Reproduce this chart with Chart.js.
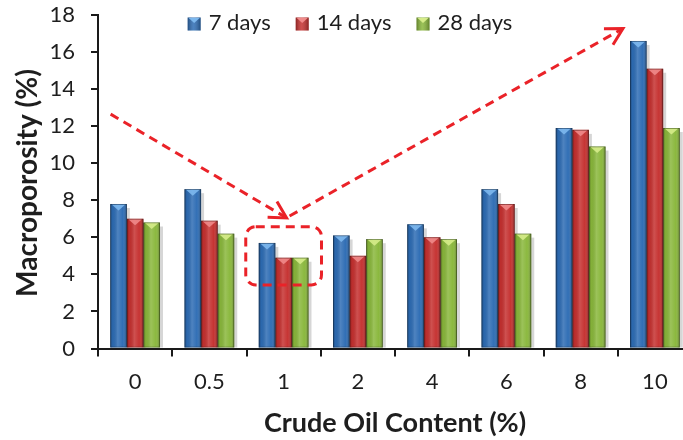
<!DOCTYPE html>
<html><head><meta charset="utf-8">
<script src="https://cdn.jsdelivr.net/npm/chart.js@4.4.1/dist/chart.umd.min.js"></script>
<style>
html,body{margin:0;padding:0;background:#fff;overflow:hidden;width:683px;height:440px}
#wrap{position:absolute;left:0;top:0;width:700px;height:440px}
</style>
</head><body><div id="wrap"><canvas id="c" width="700" height="440" style="width:700px;height:440px"></canvas></div>
<script>
// ---- data ----
const categories = ['0', '0.5', '1', '2', '4', '6', '8', '10'];
const seriesLabels = ['7 days', '14 days', '28 days'];
const days7  = [7.8, 8.6, 5.7, 6.1, 6.7, 8.6, 11.9, 16.6];
const days14 = [7.0, 6.9, 4.9, 5.0, 6.0, 7.8, 11.8, 15.1];
const days28 = [6.8, 6.2, 4.9, 5.9, 5.9, 6.2, 10.9, 11.9];
const yMin = 0, yMax = 18, yStep = 2;
const xTitle = 'Crude Oil Content (%)';
const yTitle = 'Macroporosity (%)';

// ---- annotation positions (data coordinates: category index, value) ----
const arrowDown = { from: [-0.33, 12.65], to: [2.04, 7.05] };
const arrowUp   = { from: [2.08, 7.15],   to: [6.57, 17.27] };
const boxX = [1.49, 2.51], boxY = [3.43, 6.57];

const baseColors = ['#2d6cb4', '#c5302f', '#89b73b'];
const topColors  = ['#7db8ee', '#f08a8a', '#d6ec8a'];
const FONT = 'Lato, "Open Sans", sans-serif';
const TXT = '#1e1e1e';
const RED = '#ea2228';

const shadePlugin = {
  id: 'shade',
  beforeDatasetsDraw(chart) {
    const ctx = chart.ctx;
    ctx.save();
    chart.data.datasets.forEach((ds, di) => {
      chart.getDatasetMeta(di).data.forEach(el => {
        const p = el.getProps(['x', 'y', 'base', 'width'], true);
        ctx.fillStyle = 'rgba(0,0,0,0.16)';
        ctx.fillRect(p.x + p.width / 2, p.y + 4, 3, p.base - p.y - 4);
      });
    });
    ctx.restore();
  },
  afterDatasetsDraw(chart) {
    const ctx = chart.ctx;
    ctx.save();
    chart.data.datasets.forEach((ds, di) => {
      chart.getDatasetMeta(di).data.forEach(el => {
        const p = el.getProps(['x', 'y', 'base', 'width'], true);
        const l = p.x - p.width / 2, r = p.x + p.width / 2;
        const g = ctx.createLinearGradient(l, 0, r, 0);
        g.addColorStop(0, 'rgba(0,0,0,0.30)');
        g.addColorStop(0.15, 'rgba(0,0,0,0.04)');
        g.addColorStop(0.45, 'rgba(255,255,255,0.16)');
        g.addColorStop(0.75, 'rgba(255,255,255,0.02)');
        g.addColorStop(1, 'rgba(0,0,0,0.32)');
        ctx.fillStyle = g;
        ctx.fillRect(l, p.y, p.width, p.base - p.y);
        ctx.beginPath();
        ctx.moveTo(l + 1.5, p.y + 0.5);
        ctx.lineTo(r - 1.5, p.y + 0.5);
        ctx.lineTo(p.x, p.y + 6.5);
        ctx.closePath();
        ctx.fillStyle = topColors[di];
        ctx.globalAlpha = 0.9;
        ctx.fill();
        ctx.globalAlpha = 1;
        ctx.strokeStyle = 'rgba(0,0,0,0.35)';
        ctx.lineWidth = 0.8;
        ctx.strokeRect(l + 0.4, p.y + 0.4, p.width - 0.8, p.base - p.y - 0.8);
      });
    });
    ctx.restore();
  }
};

function P(chart, v) {
  return [chart.scales.x.getPixelForValue(v[0]), chart.scales.y.getPixelForValue(v[1])];
}
function drawArrow(ctx, a, b) {
  ctx.setLineDash([9, 6]);
  ctx.beginPath(); ctx.moveTo(a[0], a[1]); ctx.lineTo(b[0], b[1]); ctx.stroke();
  ctx.setLineDash([]);
  const ang = Math.atan2(b[1] - a[1], b[0] - a[0]) + Math.PI;
  const len = 19, spread = 29 * Math.PI / 180;
  ctx.beginPath();
  ctx.moveTo(b[0] + len * Math.cos(ang - spread), b[1] + len * Math.sin(ang - spread));
  ctx.lineTo(b[0], b[1]);
  ctx.lineTo(b[0] + len * Math.cos(ang + spread), b[1] + len * Math.sin(ang + spread));
  ctx.stroke();
}

const annotPlugin = {
  id: 'annot',
  afterDraw(chart) {
    const ctx = chart.ctx;
    ctx.save();
    ctx.strokeStyle = RED;
    ctx.lineWidth = 3;
    ctx.lineCap = 'butt';
    drawArrow(ctx, P(chart, arrowDown.from), P(chart, arrowDown.to));
    drawArrow(ctx, P(chart, arrowUp.from), P(chart, arrowUp.to));
    const x0 = chart.scales.x.getPixelForValue(boxX[0]), x1 = chart.scales.x.getPixelForValue(boxX[1]);
    const y0 = chart.scales.y.getPixelForValue(boxY[1]), y1 = chart.scales.y.getPixelForValue(boxY[0]);
    ctx.setLineDash([9, 6]);
    ctx.beginPath();
    ctx.roundRect(x0, y0, x1 - x0, y1 - y0, 10);
    ctx.stroke();
    ctx.setLineDash([]);

    // y axis title
    ctx.fillStyle = TXT;
    ctx.font = 'bold 28px ' + FONT;
    ctx.textAlign = 'center';
    ctx.textBaseline = 'middle';
    ctx.translate(28, 183);
    ctx.rotate(-Math.PI / 2);
    ctx.fillText(yTitle, 0, 0);
    ctx.restore();

    // legend
    ctx.save();
    ctx.font = '22px ' + FONT;
    ctx.textBaseline = 'middle';
    ctx.textAlign = 'left';
    const box = 13, gap = 8, sep = 25;
    const widths = seriesLabels.map(t => ctx.measureText(t).width);
    const total = widths.reduce((s, w) => s + box + gap + w, 0) + sep * (seriesLabels.length - 1);
    let x = 350 - total / 2;
    const cy = 23;
    seriesLabels.forEach((t, i) => {
      const by = cy - box / 2 + 1;
      ctx.fillStyle = baseColors[i];
      ctx.fillRect(x, by, box, box);
      const g = ctx.createLinearGradient(x, 0, x + box, 0);
      g.addColorStop(0, 'rgba(0,0,0,0.3)'); g.addColorStop(0.45, 'rgba(255,255,255,0.15)'); g.addColorStop(1, 'rgba(0,0,0,0.3)');
      ctx.fillStyle = g; ctx.fillRect(x, by, box, box);
      ctx.beginPath(); ctx.moveTo(x + 1, by + 0.5); ctx.lineTo(x + box - 1, by + 0.5); ctx.lineTo(x + box / 2, by + 5.5); ctx.closePath();
      ctx.fillStyle = topColors[i]; ctx.fill();
      ctx.fillStyle = TXT;
      ctx.fillText(t, x + box + gap, cy);
      x += box + gap + widths[i] + sep;
    });
    ctx.restore();
  }
};

new Chart(document.getElementById('c'), {
  type: 'bar',
  data: {
    labels: categories,
    datasets: [
      { label: seriesLabels[0], data: days7,  backgroundColor: baseColors[0] },
      { label: seriesLabels[1], data: days14, backgroundColor: baseColors[1] },
      { label: seriesLabels[2], data: days28, backgroundColor: baseColors[2] }
    ]
  },
  options: {
    responsive: false,
    animation: false,
    devicePixelRatio: 1,
    layout: { padding: { left: 0, top: 15, right: 8, bottom: 0 } },
    datasets: { bar: { categoryPercentage: 0.67, barPercentage: 1.0 } },
    plugins: { legend: { display: false }, tooltip: { enabled: false } },
    scales: {
      x: {
        afterFit: s => { s.height = 91.5; s.paddingLeft = 0; s.paddingRight = 0; },
        border: { display: true, color: '#1a1a1a', width: 2 },
        grid: { offset: true, drawOnChartArea: false, drawTicks: true, tickLength: 8, color: '#1a1a1a', lineWidth: 2 },
        ticks: { color: TXT, font: { family: FONT, size: 22 }, padding: 12 },
        title: { display: true, text: xTitle, color: TXT, font: { family: FONT, size: 27, weight: 'bold' }, padding: { top: 0, bottom: 1 } }
      },
      y: {
        min: yMin, max: yMax,
        afterFit: s => { s.width = 98; s.paddingTop = 0; s.paddingBottom = 0; },
        border: { display: true, color: '#1a1a1a', width: 2 },
        grid: { drawOnChartArea: false, drawTicks: true, tickLength: 7, color: '#1a1a1a', lineWidth: 2 },
        ticks: { stepSize: yStep, color: TXT, font: { family: FONT, size: 22 }, padding: 16 }
      }
    }
  },
  plugins: [shadePlugin, annotPlugin]
});
</script>
</body></html>
